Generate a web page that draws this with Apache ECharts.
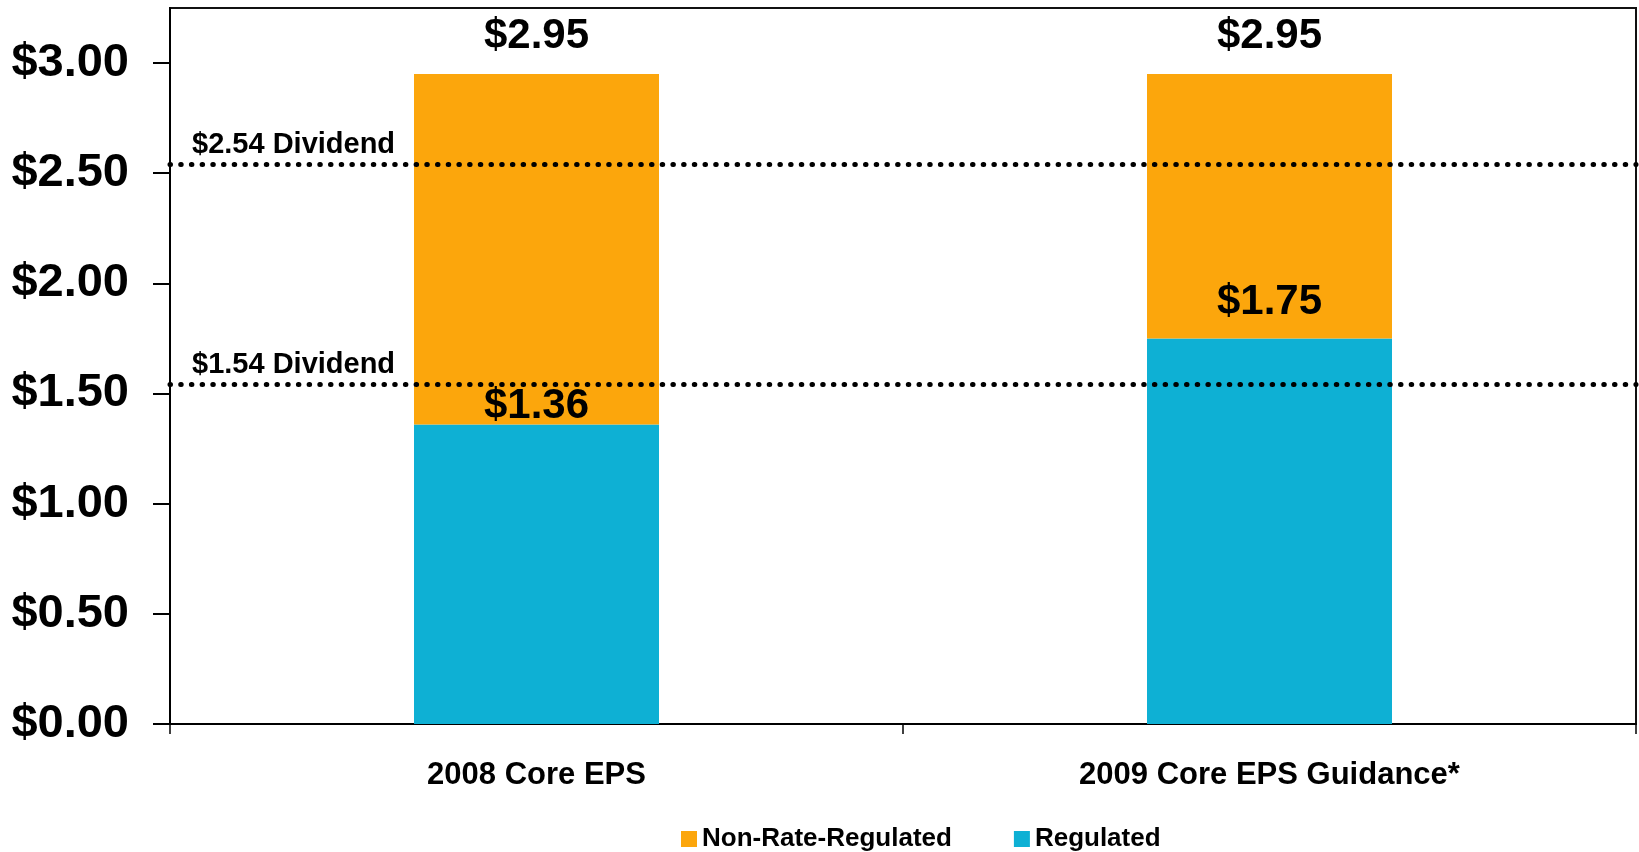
<!DOCTYPE html>
<html>
<head>
<meta charset="utf-8">
<style>
  html, body { margin: 0; padding: 0; background: #fff; }
  #chart { width: 1639px; height: 852px; }
</style>
<script src="https://cdn.jsdelivr.net/npm/echarts@6/dist/echarts.min.js"></script>
</head>
<body>
<div id="chart"></div>
<script>
// Core EPS split into regulated and non-rate-regulated earnings
const categories = ['2008 Core EPS', '2009 Core EPS Guidance*'];
const regulated = [1.36, 1.75];
const totals = [2.95, 2.95];
const nonRateRegulated = totals.map((t, i) => +(t - regulated[i]).toFixed(2));
const dividends = [2.54, 1.54];
const yTicks = [0, 0.5, 1, 1.5, 2, 2.5, 3];
const seriesNames = ['Non-Rate-Regulated', 'Regulated'];

const FONT = "'Liberation Sans', Arial, sans-serif";
const ORANGE = '#FCA60C';
const TEAL = '#0EB0D4';
const money = v => '$' + Number(v).toFixed(2);

const chart = echarts.init(document.getElementById('chart'));

chart.setOption({
  animation: false,
  backgroundColor: '#fff',
  textStyle: { fontFamily: FONT },
  grid: {
    left: 170, right: 3, top: 8, bottom: 128,
    show: true, borderColor: '#111', borderWidth: 2
  },
  legend: {
    data: seriesNames,
    left: 676, top: 821,
    itemWidth: 16, itemHeight: 16, itemGap: 62,
    icon: 'rect',
    textStyle: { fontFamily: FONT, fontWeight: 'bold', fontSize: 26, color: '#000' }
  },
  xAxis: {
    type: 'category',
    data: categories,
    boundaryGap: true,
    axisLine: { lineStyle: { color: '#000', width: 2 } },
    axisTick: { show: true, length: 10, lineStyle: { color: '#000', width: 1.5 } },
    axisLabel: { margin: 36, fontFamily: FONT, fontWeight: 'bold', fontSize: 31, color: '#000' }
  },
  yAxis: {
    type: 'value',
    min: 0, max: 3.25, interval: 0.5,
    splitLine: { show: false },
    axisLine: { show: true, lineStyle: { color: '#000', width: 2 } },
    axisTick: { show: true, length: 17, customValues: yTicks, lineStyle: { color: '#000', width: 2 } },
    axisLabel: {
      customValues: yTicks,
      margin: 41,
      formatter: money,
      fontFamily: FONT, fontWeight: 'bold', fontSize: 47, color: '#000'
    }
  },
  series: [
    {
      name: 'Regulated',
      type: 'bar',
      stack: 'eps',
      barWidth: 245,
      itemStyle: { color: TEAL },
      data: regulated.map((v, i) => ({
        value: v,
        label: { distance: i === 0 ? -3 : 15 }
      })),
      label: {
        show: true, position: 'top',
        formatter: p => money(p.value),
        fontFamily: FONT, fontWeight: 'bold', fontSize: 42, color: '#000'
      },
      markLine: {
        silent: true,
        symbol: ['none', 'none'],
        lineStyle: { color: '#000', width: 5, type: [0.5, 10.2], cap: 'round' },
        label: {
          show: true,
          position: 'insideStartTop',
          distance: [22, 5],
          formatter: p => money(p.value) + ' Dividend',
          fontFamily: FONT, fontWeight: 'bold', fontSize: 29, color: '#000'
        },
        data: dividends.map(d => ({ yAxis: d }))
      },
      z: 2
    },
    {
      name: 'Non-Rate-Regulated',
      type: 'bar',
      stack: 'eps',
      barWidth: 245,
      itemStyle: { color: ORANGE },
      data: nonRateRegulated,
      label: {
        show: true, position: 'top', distance: 17,
        formatter: p => money(totals[p.dataIndex]),
        fontFamily: FONT, fontWeight: 'bold', fontSize: 42, color: '#000'
      },
      z: 2
    }
  ]
});
</script>
</body>
</html>
